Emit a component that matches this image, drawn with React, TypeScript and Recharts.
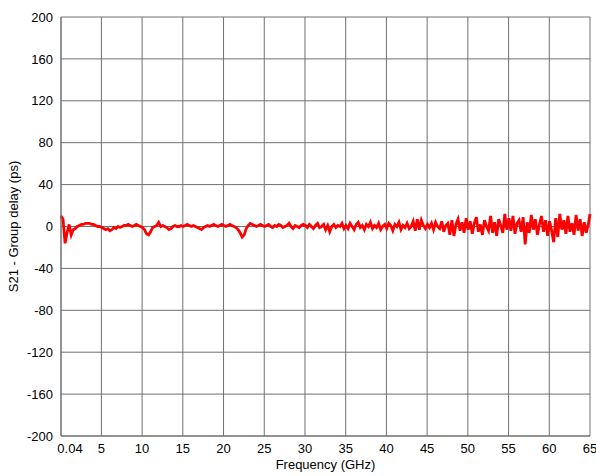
import React from 'react';
import { LineChart, Line, XAxis, YAxis, CartesianGrid, Label } from 'recharts';

// group delay (ps), one value every 0.25 GHz starting at 0.04 GHz, last point at 65 GHz
const delay0to5 = [10, 7, -16, -6, 2, -8, -3, -2, 0, 1, 2, 2, 3, 3, 3, 2, 2, 1, 0, 0];
const delay5to10 = [-1, -2, -3, -2, -4, -3, -1, -2, 0, -1, 0, 1, 1, 2, 1, 0, 1, 2, 1, 0];
const delay10to15 = [-1, -3, -7, -8, -5, -1, 0, 1, 4, 0, 1, 0, -1, -3, -2, 0, 1, 0, 0, 1];
const delay15to20 = [0, 1, 2, 1, 0, 1, 0, -1, -2, -3, -1, 0, 1, 0, 1, 2, 1, 0, 1, 2];
const delay20to25 = [1, 0, 1, 2, 1, 0, -1, -3, -6, -10, -8, -2, 1, 3, 2, 1, 0, 1, 2, 1];
const delay25to30 = [0, 1, 2, 0, -1, 1, 0, 2, 1, -1, 0, 1, 3, 0, -2, 1, 0, -1, 1, 2];
const delay30to35 = [1, -1, 2, 0, -2, 1, 3, -1, 0, 2, -3, 1, -5, 0, 2, -1, 1, 0, 3, -2];
const delay35to40 = [1, -2, 3, 0, -3, 2, 4, -1, 1, -3, 2, 0, 4, -2, 1, -1, 3, -3, 0, 2];
const delay40to45 = [-2, 3, 1, -4, 2, 0, 4, -3, 1, -1, 3, -2, 0, 5, -4, 7, -3, 6, 1, -2];
const delay45to50 = [2, -1, 3, -3, 4, 0, -2, 5, -5, 1, 3, -8, 6, -9, 2, 7, -4, 4, -6, 8];
const delay50to55 = [-3, 5, -7, 3, 9, -5, 2, -8, 6, 0, -4, 10, -6, 4, -9, 7, 1, -6, 12, -3];
const delay55to60 = [8, -4, 10, -7, 3, 6, -5, 9, -17, 4, -6, 11, -3, 7, -8, 2, 10, -5, 6, -9];
const delay60to65 = [5, -4, -15, 8, -10, 12, -3, 6, -7, 10, -5, 3, -8, 11, -4, 7, -9, 4, -6, 2, 12];

const xTicks = [0.04, 5, 10, 15, 20, 25, 30, 35, 40, 45, 50, 55, 60, 65];
const yTicks = [-200, -160, -120, -80, -40, 0, 40, 80, 120, 160, 200];

const delays = [
  ...delay0to5, ...delay5to10, ...delay10to15, ...delay15to20, ...delay20to25,
  ...delay25to30, ...delay30to35, ...delay35to40, ...delay40to45, ...delay45to50,
  ...delay50to55, ...delay55to60, ...delay60to65,
];

const data = delays.map((d, i) => ({
  freq: i === delays.length - 1 ? 65 : 0.04 + i * 0.25,
  delay: d,
}));

const font = 'Liberation Sans, Arial, sans-serif';

const FreqTick = (props: any) => {
  const { x, y, payload } = props;
  const shift = payload.value === 0.04 ? 9 : 0;
  return (
    <text x={x + shift} y={y + 15} textAnchor="middle" fontSize={13} fontFamily={font} fill="#000">
      {payload.value}
    </text>
  );
};

const App = () => {
  return (
    <div style={{ position: 'absolute', left: 0, top: 0, background: '#fff' }}>
      <LineChart width={596} height={476} data={data} margin={{ top: 17, right: 6, bottom: 0, left: 0 }}>
        <CartesianGrid stroke="#707070" strokeWidth={1} vertical horizontal />
        <XAxis
          dataKey="freq"
          type="number"
          domain={[0.04, 65]}
          ticks={xTicks}
          interval={0}
          height={40}
          tickLine={false}
          tickSize={0}
          axisLine={{ stroke: '#707070' }}
          tick={<FreqTick />}
        >
          <Label value="Frequency (GHz)" position="insideBottom" offset={7} fontSize={13} fontFamily={font} fill="#000" />
        </XAxis>
        <YAxis
          type="number"
          domain={[-200, 200]}
          ticks={yTicks}
          interval={0}
          width={61}
          tickLine={false}
          tickSize={0}
          tickMargin={8}
          axisLine={{ stroke: '#707070' }}
          tick={{ fontSize: 13, fontFamily: font, fill: '#000' }}
        >
          <Label
            value="S21 - Group delay (ps)"
            angle={-90}
            position="insideLeft"
            offset={13}
            style={{ textAnchor: 'middle' }}
            fontSize={13}
            fontFamily={font}
            fill="#000"
          />
        </YAxis>
        <Line
          type="linear"
          dataKey="delay"
          stroke="#ff0000"
          strokeWidth={2.8}
          dot={false}
          isAnimationActive={false}
        />
      </LineChart>
    </div>
  );
};

export default App;
